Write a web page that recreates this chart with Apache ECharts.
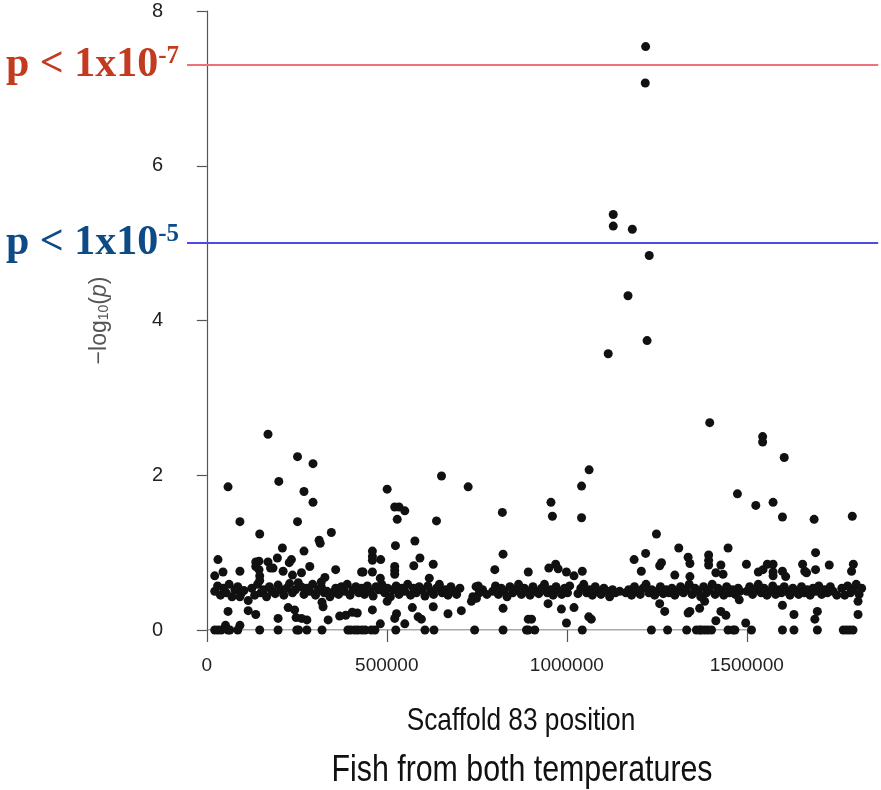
<!DOCTYPE html>
<html>
<head>
<meta charset="utf-8">
<script src="https://cdn.jsdelivr.net/npm/echarts@6/dist/echarts.min.js"></script>
<style>
  html, body { margin: 0; padding: 0; background: #ffffff; }
  #chart { width: 881px; height: 790px; }
</style>
</head>
<body>
<div id="chart"></div>
<script>
// ---------------- data (positions in kb, values = -log10(p)) ----------------
const xTicks = [0, 500000, 1000000, 1500000];
const yTicks = [0, 2, 4, 6, 8];
const thresholds = [7.3, 5];
const thresholdLabels = [['p < 1x10', '-7'], ['p < 1x10', '-5']];

// peak SNPs
const peakPosKb = [1219, 1218, 1129, 1129, 1182, 1229, 1170, 1223, 1115];
const peakLog   = [7.54, 7.07, 5.37, 5.22, 5.18, 4.84, 4.32, 3.74, 3.57];

// dense band of SNPs around 0.5
const bandPosKb = [22,30,38,46,54,62,70,78,86,95,103,
  125,133,141,150,158,166,174,182,190,198,206,214,222,230,238,246,254,262,270,278,286,294,302,310,318,326,334,342,350,358,366,374,382,390,398,406,414,422,430,438,446,454,462,470,478,486,494,502,510,518,526,534,542,550,558,566,574,582,590,598,606,614,622,630,638,646,654,662,670,678,686,694,703,
  739,748,757,766,778,
  794,802,810,818,826,834,842,850,858,866,874,882,890,898,906,914,922,930,938,946,954,962,970,978,986,994,1002,1008,
  1031,1039,1047,1055,1063,1071,1079,1087,1095,1103,1111,1119,1127,1135,1147,
  1164,1172,1180,1188,1196,1204,1212,1220,1228,1236,1244,1252,1260,1268,1276,1284,1292,1300,1308,1316,1324,1332,1340,1348,1356,1364,1372,1380,1388,1396,1404,1412,1420,1428,1436,1444,1452,1460,1468,1476,1481,
  1500,1508,1516,1524,1532,1540,1548,1556,1564,1572,1580,1588,1596,1604,1612,1620,1628,1636,1644,1652,1660,1668,1676,1684,1692,1700,1708,1716,1724,1732,1740,1750,
  1764,1772,1780,1788,1796,1804,1812,1819];
const bandLog = [0.50,0.57,0.45,0.54,0.48,0.59,0.43,0.52,0.56,0.47,0.51,
  0.54,0.45,0.59,0.48,0.52,0.43,0.56,0.50,0.47,0.58,0.52,0.45,0.54,0.60,0.48,0.52,0.61,0.56,0.46,0.54,0.50,0.59,0.45,0.52,0.56,0.48,0.50,0.43,0.48,0.54,0.46,0.56,0.50,0.59,0.45,0.52,0.56,0.48,0.54,0.46,0.57,0.50,0.44,0.56,0.52,0.59,0.48,0.54,0.43,0.52,0.57,0.46,0.54,0.50,0.59,0.45,0.54,0.48,0.56,0.52,0.44,0.57,0.50,0.46,0.54,0.59,0.48,0.52,0.45,0.56,0.50,0.46,0.54,
  0.43,0.56,0.48,0.52,0.46,
  0.50,0.57,0.46,0.54,0.50,0.43,0.56,0.48,0.52,0.59,0.46,0.54,0.50,0.45,0.56,0.50,0.47,0.54,0.59,0.48,0.52,0.45,0.56,0.50,0.46,0.54,0.48,0.57,
  0.47,0.54,0.59,0.48,0.52,0.45,0.56,0.50,0.46,0.54,0.50,0.43,0.52,0.48,0.50,
  0.48,0.52,0.45,0.56,0.50,0.46,0.54,0.59,0.48,0.52,0.45,0.50,0.56,0.47,0.52,0.48,0.54,0.45,0.50,0.56,0.48,0.52,0.59,0.46,0.54,0.50,0.43,0.56,0.48,0.52,0.59,0.46,0.54,0.50,0.45,0.56,0.48,0.52,0.46,0.54,0.50,
  0.50,0.56,0.46,0.52,0.59,0.48,0.54,0.45,0.50,0.57,0.46,0.52,0.48,0.56,0.50,0.45,0.54,0.50,0.46,0.56,0.48,0.52,0.45,0.54,0.50,0.57,0.46,0.52,0.48,0.56,0.50,0.45,
  0.54,0.45,0.57,0.48,0.52,0.59,0.46,0.54];

// scattered SNPs (kb, -log10 p)
const scatterPts = [
  [170,2.53],[252,2.24],[295,2.15],[59,1.85],[200,1.92],[270,1.79],[295,1.65],[92,1.40],[252,1.40],[147,1.24],[346,1.26],[312,1.16],[315,1.12],[210,1.06],[270,1.02],[31,0.91],[136,0.88],[145,0.89],[170,0.88],[196,0.93],[235,0.91],[229,0.87],[22,0.70],[45,0.75],[92,0.76],[136,0.82],[145,0.78],[177,0.80],[184,0.80],[212,0.76],[238,0.71],[263,0.74],[286,0.82],[318,0.62],[328,0.68],[358,0.78],[430,0.75],[147,0.70],[147,0.64],
  [92,0.43],[115,0.38],[59,0.24],[115,0.25],[136,0.20],[226,0.29],[244,0.26],[248,0.16],[263,0.15],[198,0.15],[320,0.36],[323,0.30],[337,0.13],[369,0.18],[386,0.19],[404,0.23],[418,0.22],[52,0.06],[92,0.06],[278,0.13],
  [652,1.99],[501,1.82],[726,1.85],[522,1.59],[534,1.59],[550,1.54],[529,1.43],[638,1.41],[821,1.52],[578,1.15],[524,1.09],[460,1.02],[460,0.95],[460,0.90],[483,0.91],[592,0.93],[823,0.98],[434,0.75],[460,0.75],[482,0.67],[522,0.82],[522,0.77],[522,0.72],[575,0.83],[629,0.85],[618,0.67],[800,0.78],[893,0.75],[754,0.57],
  [501,0.37],[735,0.37],[749,0.41],[460,0.26],[527,0.21],[522,0.15],[571,0.29],[587,0.17],[596,0.14],[629,0.30],[670,0.21],[707,0.25],[823,0.28],[550,0.08],[482,0.08],[893,0.14],
  [1062,2.07],[1041,1.86],[956,1.65],[960,1.47],[1041,1.45],[1249,1.24],[1311,1.06],[1187,0.91],[1219,0.99],[1337,0.94],[1342,0.86],[1263,0.87],[1258,0.83],[1207,0.76],[1300,0.71],[950,0.80],[969,0.85],[976,0.79],[999,0.75],[1020,0.70],[1043,0.76],
  [948,0.34],[985,0.27],[1020,0.29],[902,0.14],[999,0.09],[1061,0.17],[1068,0.14],[1258,0.34],[1272,0.24],[1337,0.22],
  [1397,2.68],[1544,2.50],[1544,2.43],[1604,2.23],[1474,1.76],[1525,1.61],[1573,1.65],[1599,1.46],[1687,1.43],[1793,1.47],[1448,1.06],[1394,0.97],[1394,0.90],[1691,1.00],[1414,0.74],[1428,0.84],[1434,0.72],[1499,0.85],[1532,0.75],[1545,0.78],[1557,0.85],[1573,0.85],[1573,0.75],[1573,0.70],[1599,0.76],[1608,0.69],[1655,0.85],[1661,0.76],[1666,0.74],[1691,0.78],[1729,0.84],[1796,0.85],[1791,0.76],[1342,0.69],[1394,0.84],
  [1383,0.37],[1369,0.28],[1428,0.24],[1442,0.19],[1414,0.12],[1479,0.39],[1599,0.32],[1631,0.20],[1696,0.24],[1689,0.14],[1809,0.20],[1809,0.37],[1342,0.24],[1497,0.09]
];

// SNPs with -log10(p) ~ 0
const zeroPosKb = [22,31,40,59,64,86,147,198,250,255,278,320,392,400,411,420,431,440,457,467,525,606,631,744,823,888,893,911,1043,1235,1280,1333,1360,1369,1374,1383,1392,1402,1448,1462,1467,1513,1599,1631,1696,1768,1777,1786,1795];

// ---------------- build ----------------
const KB = 1000;
const points = [];
peakPosKb.forEach((p, i) => points.push([p * KB, peakLog[i]]));
bandPosKb.forEach((p, i) => points.push([p * KB, bandLog[i]]));
scatterPts.forEach(d => points.push([d[0] * KB, d[1]]));
zeroPosKb.forEach(p => points.push([p * KB, 0]));

const chart = echarts.init(document.getElementById('chart'), null, { renderer: 'canvas' });

const lineColors = ['#f0707a', '#4b4be8'];
const textColors = ['#c23a1f', '#0d4b86'];
const sans = 'Liberation Sans, Arial, sans-serif';

const option = {
  backgroundColor: '#ffffff',
  animation: false,
  grid: { left: 187, top: 11, width: 691.2, height: 619 },
  xAxis: {
    type: 'value',
    min: -55000,
    max: 1865000,
    axisLine: { show: false },
    splitLine: { show: false },
    axisTick: {
      show: true, length: 12, customValues: xTicks,
      lineStyle: { color: '#555', width: 1.2 }
    },
    axisLabel: {
      customValues: xTicks,
      formatter: v => String(v),
      fontSize: 19, color: '#222', margin: 26,
      fontFamily: sans
    }
  },
  yAxis: {
    type: 'value',
    min: yTicks[0], max: yTicks[yTicks.length - 1], interval: 2,
    splitLine: { show: false },
    axisLine: { show: true, lineStyle: { color: '#555', width: 1.2 } },
    axisTick: { show: true, length: 10, lineStyle: { color: '#555', width: 1.2 } },
    axisLabel: {
      fontSize: 20, color: '#222', margin: 24,
      fontFamily: sans
    },
    name: '{a|\u2212log}{b|10}{a|(}{i|p}{a|)}',
    nameLocation: 'middle',
    nameRotate: 90,
    nameGap: 76,
    nameTextStyle: {
      rich: {
        a: { fontSize: 23, color: '#555', fontFamily: sans },
        b: { fontSize: 14, color: '#555', verticalAlign: 'bottom', fontFamily: sans },
        i: { fontSize: 23, color: '#555', fontStyle: 'italic', fontFamily: sans }
      }
    }
  },
  series: [
    {
      type: 'line',
      silent: true,
      symbol: 'none',
      z: 1,
      lineStyle: { color: '#555', width: 1.2 },
      data: [[xTicks[0], 0], [xTicks[xTicks.length - 1], 0]]
    },
    {
      type: 'scatter',
      symbol: 'circle',
      symbolSize: 9,
      z: 3,
      itemStyle: { color: '#111111', opacity: 1 },
      data: points,
      markLine: {
        silent: true,
        symbol: 'none',
        animation: false,
        data: thresholds.map((t, i) => ({
          yAxis: t,
          lineStyle: { color: lineColors[i], width: 2, type: 'solid' },
          label: {
            show: true,
            position: 'start',
            distance: 8,
            formatter: '{m|' + thresholdLabels[i][0] + '}{s|' + thresholdLabels[i][1] + '}',
            rich: {
              m: { fontSize: 42, fontWeight: 'bold', color: textColors[i], fontFamily: 'Liberation Serif, Times New Roman, serif', lineHeight: 42 },
              s: { fontSize: 25, fontWeight: 'bold', color: textColors[i], fontFamily: 'Liberation Serif, Times New Roman, serif', verticalAlign: 'top' }
            }
          }
        }))
      }
    }
  ],
  graphic: [
    {
      type: 'text', x: 521, y: 721, scaleX: 0.82,
      style: {
        text: 'Scaffold 83 position', fill: '#111',
        font: '32px "Liberation Sans", Arial, sans-serif',
        textAlign: 'center', textVerticalAlign: 'middle'
      }
    },
    {
      type: 'text', x: 522, y: 771, scaleX: 0.82,
      style: {
        text: 'Fish from both temperatures', fill: '#111',
        font: '37px "Liberation Sans", Arial, sans-serif',
        textAlign: 'center', textVerticalAlign: 'middle'
      }
    }
  ]
};

chart.setOption(option);
</script>
</body>
</html>
